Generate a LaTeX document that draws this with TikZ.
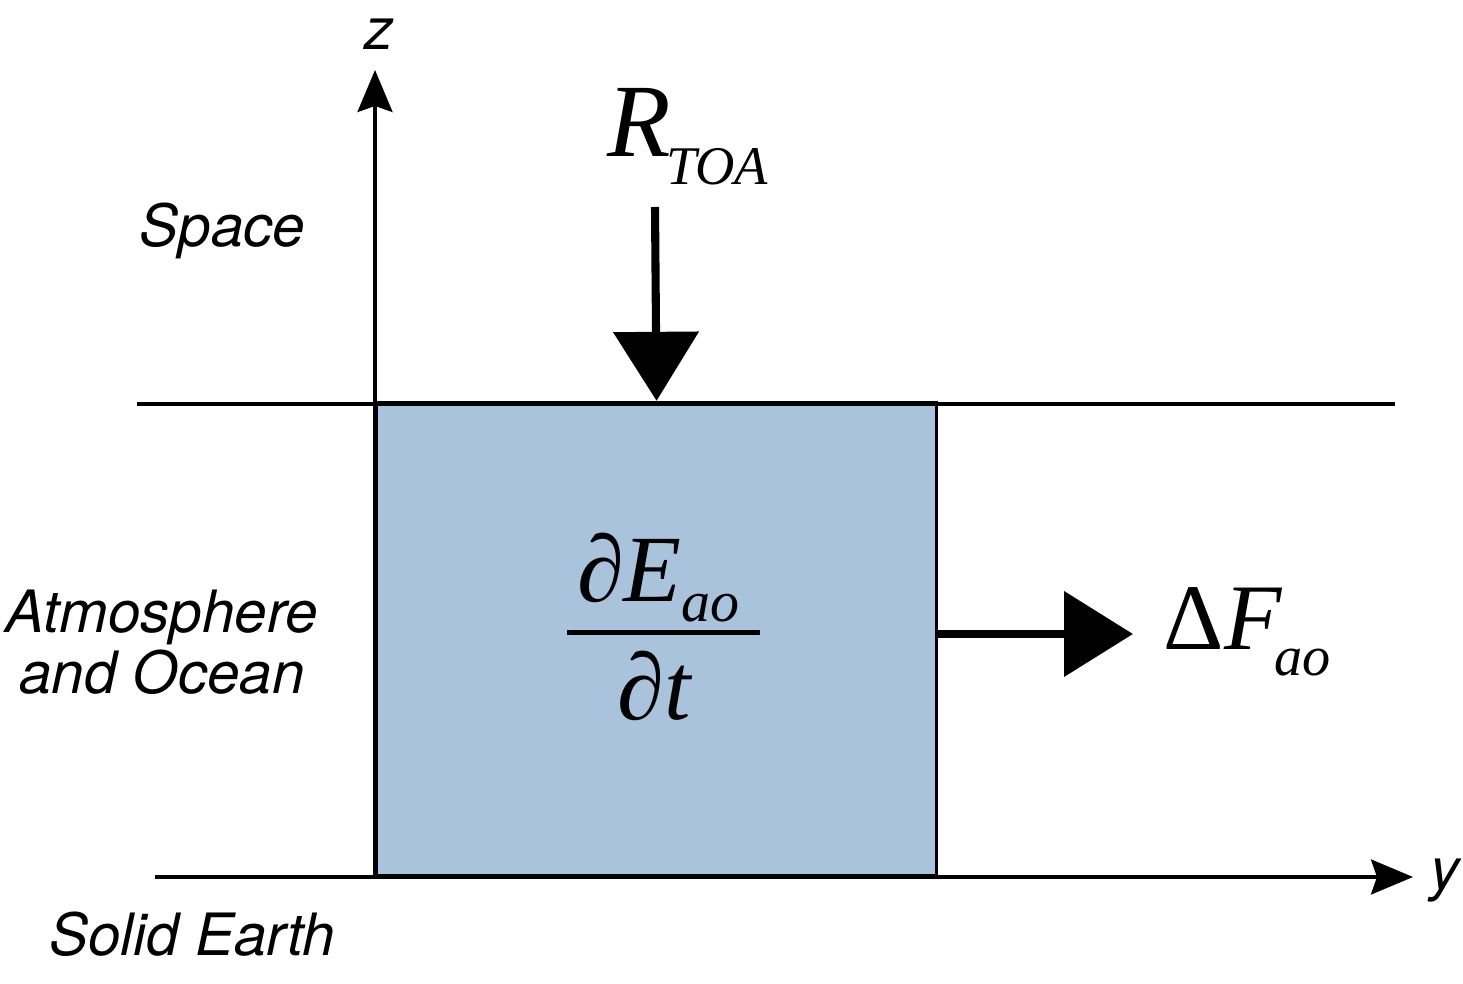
\documentclass[tikz,border=0pt]{standalone}
\usepackage{fontspec}
\setmainfont{Liberation Serif}
\newfontfamily\regionfont{TeX Gyre Heros}
\usetikzlibrary{arrows.meta}
\definecolor{boxblue}{HTML}{A9C3DD}
% lowered subscript: shift, size, text
\newcommand\lowsub[3]{\raisebox{-#1}{\fontsize{#2}{#2}\selectfont\itshape #3}}
% fraction with a heavy bar
\newcommand\heavyfrac[2]{\vbox{\halign{\hfil##\hfil\cr
 \vrule depth .28cm width 0pt #1\cr\noalign{\hrule height 1.5pt}
 \vrule height .85cm width 0pt #2\cr}}}

\begin{document}
\begin{tikzpicture}[x=1cm,y=1cm,
 layer/.style={line width=.9pt},
 axis/.style={line width=.9pt,-{Stealth[length=4.2mm,width=3.5mm,inset=.6mm]}},
 flux/.style={line width=2.3pt,-{Triangle[length=6.9mm,width=8.4mm]}},
 region/.style={font=\regionfont\itshape\fontsize{16.6}{17.6}\selectfont,align=center,inner sep=0pt,anchor=base},
 eq/.style={inner sep=0pt,anchor=base west}]
\useasboundingbox (0,0) rectangle (14.63,9.84);
% layers and axes
\node[draw,line width=.9pt,fill=boxblue,inner sep=0pt,anchor=south west,
 minimum width=5.6cm,minimum height=4.73cm] (box) at (3.75,1.07) {};
\coordinate (origin) at (3.75,1.07);
\coordinate (groundL) at (1.55,1.07);
\coordinate (yend) at (14.13,1.07);
\coordinate (zend) at (3.75,9.14);
\coordinate (spaceL) at (1.37,5.80);
\coordinate (spaceR) at (13.95,5.80);
\draw[layer] (spaceL) -- (spaceR);
\draw[layer] (groundL) -- (origin);
\draw[axis] (origin) -- (yend);
\draw[axis] (origin) -- (zend);
\node[region] (zlab) at (3.795,9.34) {z};
\node[region] (ylab) at (14.45,0.94) {y};
% fluxes
\coordinate (rtop) at (6.55,7.77);
\coordinate (fout) at (11.33,3.50);
\draw[flux] (rtop) -- (box.north);
\draw[flux] (box.east |- fout) -- (fout);
\node[eq] (rtoa) at (6.07,8.27)
 {\fontsize{29.6}{30}\selectfont\itshape R\kern-.05cm\lowsub{.28cm}{15.5}{TOA}};
\node[eq] (dflux) at (11.63,3.34)
 {\fontsize{26.7}{27}\selectfont Δ\textit{F}\kern-.08cm\lowsub{.26cm}{16}{ao}};
\node[inner sep=0pt,anchor=base] (rate) at (6.635,2.64)
 {\fontsize{27}{28}\selectfont\heavyfrac{\kern.1cm∂\textit{E}\lowsub{.2cm}{16.5}{ao}\kern.2cm}{∂\textit{t}\kern.17cm}};
% region names
\node[region] (space) at (2.225,7.37) {Space};
\node[region] (ocean) at (1.62,2.90) {Atmosphere\\and Ocean};
\node[region] (earth) at (1.92,0.29) {Solid Earth};
\end{tikzpicture}
\end{document}
